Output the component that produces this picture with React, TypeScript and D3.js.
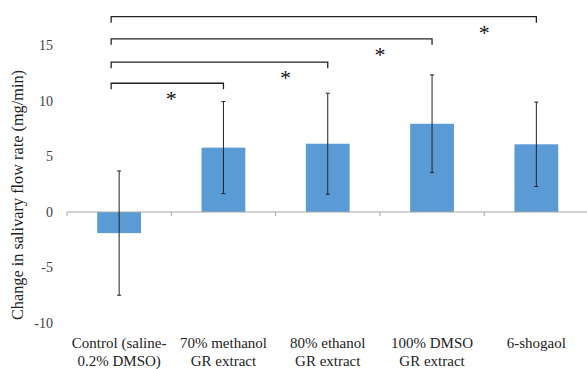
import React from "react";
import * as d3 from "d3";

const categories = [
  ["Control (saline-", "0.2% DMSO)"],
  ["70% methanol", "GR extract"],
  ["80% ethanol", "GR extract"],
  ["100% DMSO", "GR extract"],
  ["6-shogaol"],
];
const means = [-1.9, 5.8, 6.15, 7.95, 6.1];
const errors = [5.6, 4.15, 4.55, 4.4, 3.8];
const yTicks = [-10, -5, 0, 5, 10, 15];

// significance brackets: control vs group i, at height (data units)
const bracketTargets = [1, 2, 3, 4];
const bracketLevels = [11.6, 13.5, 15.6, 17.6];

const width = 587;
const height = 369;
const font = "'Liberation Serif', 'Times New Roman', serif";

export default function App() {
  const x = d3.scaleBand<number>()
    .domain(d3.range(categories.length))
    .range([67, 588.5])
    .paddingInner(0.58)
    .paddingOuter(0.29);

  const y = d3.scaleLinear().domain([-10, 15]).range([323, 45.5]);

  const step = x.step();
  const center = (i: number) => (x(i) as number) + x.bandwidth() / 2;
  const leftEdge = (i: number) => 67 + i * step;

  return (
    <svg width={width} height={height} style={{ position: "absolute", left: 0, top: 0 }}>
      <rect width={width} height={height} fill="#fff" />
      {/* y tick labels */}
      {yTicks.map((t) => (
        <text key={t} x={53} y={y(t)} dy="0.35em" textAnchor="end"
          fontFamily={font} fontSize={14} fill="#404040">{t}</text>
      ))}
      {/* y title */}
      <text transform={`translate(23, ${195}) rotate(-90)`} textAnchor="middle"
        fontFamily={font} fontSize={16.3} fill="#222">
        Change in salivary flow rate (mg/min)
      </text>
      {/* bars */}
      {means.map((m, i) => (
        <rect key={i} x={x(i)} width={x.bandwidth()}
          y={Math.min(y(m), y(0))} height={Math.abs(y(m) - y(0))}
          fill="#5b9bd5" />
      ))}
      {/* x axis */}
      <line x1={67} x2={588.5} y1={y(0)} y2={y(0)} stroke="#a6a6a6" strokeWidth={1} />
      {d3.range(categories.length + 1).map((i) => (
        <line key={i} x1={leftEdge(i)} x2={leftEdge(i)} y1={y(0)} y2={y(0) + 4}
          stroke="#a6a6a6" strokeWidth={1} />
      ))}
      {/* error bars */}
      {means.map((m, i) => {
        const cx = center(i);
        return (
          <g key={i} stroke="#222" strokeWidth={1}>
            <line x1={cx} x2={cx} y1={y(m + errors[i])} y2={y(m - errors[i])} />
            <line x1={cx - 2} x2={cx + 2} y1={y(m + errors[i])} y2={y(m + errors[i])} />
            <line x1={cx - 2} x2={cx + 2} y1={y(m - errors[i])} y2={y(m - errors[i])} />
          </g>
        );
      })}
      {/* significance brackets */}
      {bracketTargets.map((t, k) => {
        const yy = y(bracketLevels[k]);
        const x1 = center(0) - 8;
        const x2 = center(t);
        const sx = (center(t - 1) + center(t)) / 2 + (k === 1 ? 10 : 0);
        return (
          <g key={k}>
            <path d={`M${x1},${yy + 6}V${yy}H${x2}V${yy + 6}`} fill="none"
              stroke="#222" strokeWidth={1.3} />
            <text x={sx} y={yy + 23} textAnchor="middle" fontFamily={font}
              fontSize={22} fill="#111">*</text>
          </g>
        );
      })}
      {/* category labels */}
      {categories.map((lines, i) => (
        <text key={i} x={center(i)} textAnchor="middle" fontFamily={font}
          fontSize={15} fill="#222">
          {lines.map((l, j) => (
            <tspan key={j} x={center(i)} y={348 + j * 17.5}>{l}</tspan>
          ))}
        </text>
      ))}
    </svg>
  );
}
